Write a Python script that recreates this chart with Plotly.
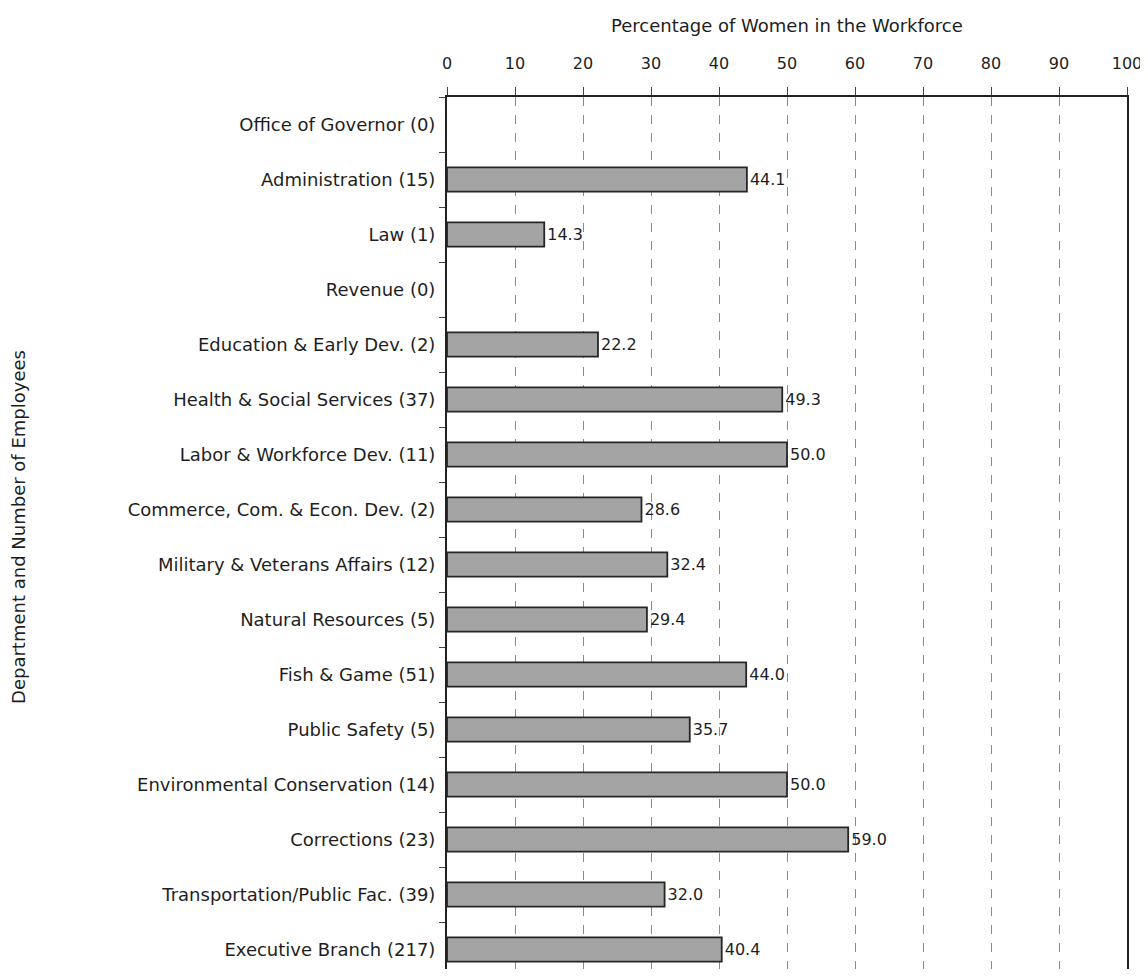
import plotly.graph_objects as go

departments = ["Office of Governor", "Administration", "Law", "Revenue",
               "Education & Early Dev.", "Health & Social Services",
               "Labor & Workforce Dev.", "Commerce, Com. & Econ. Dev.",
               "Military & Veterans Affairs", "Natural Resources", "Fish & Game",
               "Public Safety", "Environmental Conservation", "Corrections",
               "Transportation/Public Fac.", "Executive Branch"]
employees = [0, 15, 1, 0, 2, 37, 11, 2, 12, 5, 51, 5, 14, 23, 39, 217]
pct_women = [0, 44.1, 14.3, 0, 22.2, 49.3, 50.0, 28.6, 32.4, 29.4, 44.0,
             35.7, 50.0, 59.0, 32.0, 40.4]
x_ticks = [0, 10, 20, 30, 40, 50, 60, 70, 80, 90, 100]

labels = [f"{d} ({n})" for d, n in zip(departments, employees)]
texts = [f"{v:.1f}" if v > 0 else "" for v in pct_women]
line_widths = [1.8 if v > 0 else 0 for v in pct_women]

font = "DejaVu Sans, Verdana, sans-serif"
ink = "#1e1e1e"

fig = go.Figure(go.Bar(
    x=pct_women, y=labels, orientation="h",
    marker=dict(color="#a4a4a4", line=dict(color="#262626", width=line_widths)),
    text=texts, textposition="outside", cliponaxis=False,
    textfont=dict(family=font, size=16, color=ink),
))

# page body has an 8px margin; keep the page within the window (no scrollbars)
H = 961
T = 89
plot_h = H - T
band = 55.0
fig.update_layout(
    width=1140, height=H,
    margin=dict(l=439, r=21, t=T, b=0),
    paper_bgcolor="white", plot_bgcolor="white",
    bargap=0.56, showlegend=False,
    font=dict(family=font, size=18, color=ink),
    annotations=[
        dict(text="Percentage of Women in the Workforce", xref="paper", yref="paper",
             x=0.5, y=1 + 72 / plot_h, showarrow=False, font=dict(size=18, color=ink),
             xanchor="center", yanchor="middle"),
        dict(text="Department and Number of Employees", xref="paper", yref="paper",
             x=-0.631, y=1 - 430 / plot_h, showarrow=False, textangle=-90,
             font=dict(size=18, color=ink), xanchor="center", yanchor="middle"),
    ],
)
fig.update_xaxes(
    side="top", range=[0, 100], tickvals=x_ticks, automargin=False,
    showgrid=True, gridcolor="#8a8a8a", griddash="dash", gridwidth=1,
    showline=True, linecolor="#222", linewidth=2,
    ticks="outside", ticklen=8, tickcolor="#444", ticklabelstandoff=12,
    tickfont=dict(size=16, color=ink), zeroline=False,
)
fig.update_yaxes(
    range=[-0.5 + plot_h / band, -0.5], tickson="boundaries", automargin=False,
    showline=True, linecolor="#222", linewidth=2, mirror=True,
    ticks="outside", ticklen=6, tickcolor="#444", ticklabelstandoff=6,
    tickfont=dict(size=18, color=ink), showgrid=False,
)

fig.write_html("out.html")
